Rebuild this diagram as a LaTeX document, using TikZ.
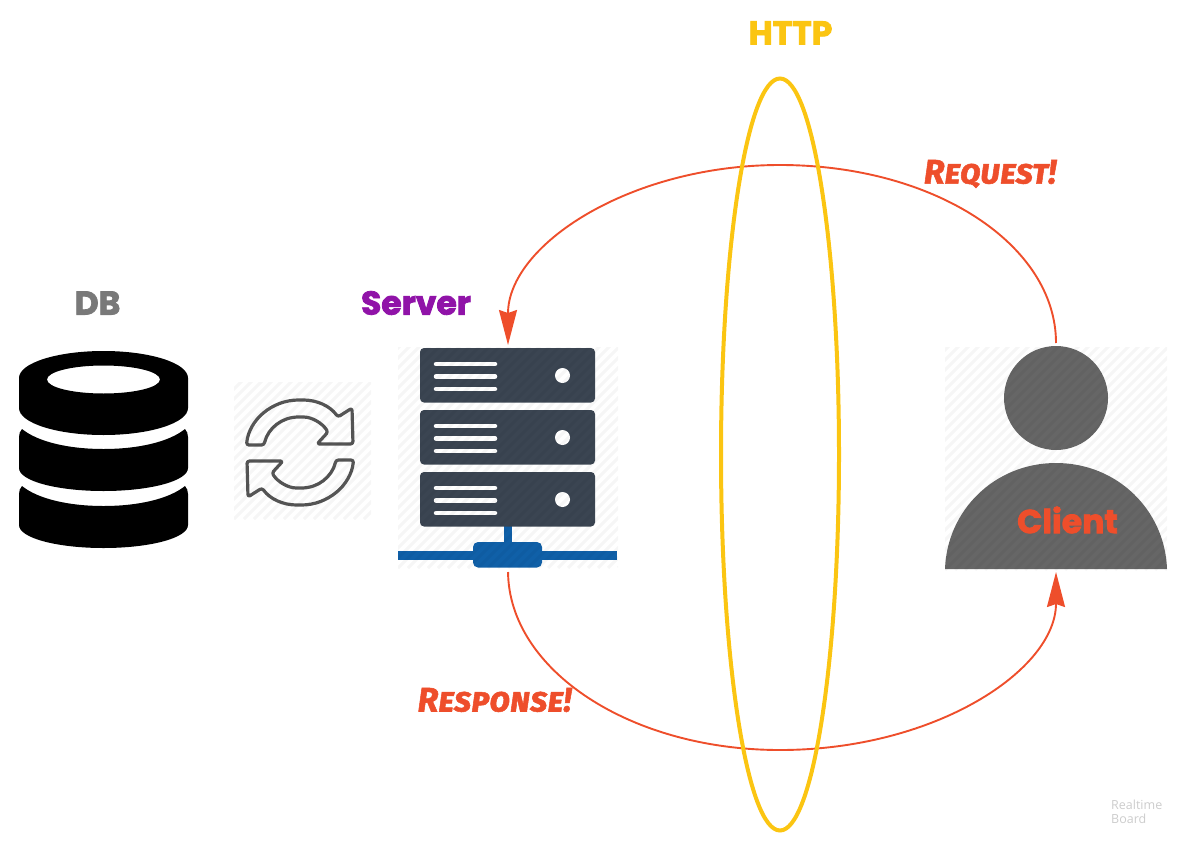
\documentclass[tikz,border=0pt]{standalone}
\usepackage{fontspec}
\usetikzlibrary{arrows.meta,shapes.geometric}
\setmainfont{Open Sans}
\newfontfamily\heavy[BoldFeatures={FakeBold=2.5}]{Poppins}
\newfontfamily\hand[Letters=SmallCaps,BoldItalicFeatures={Letters=SmallCaps,FakeBold=1.5}]{Fira Sans}
\definecolor{redline}{HTML}{EE4E2B}
\definecolor{yellowring}{HTML}{FBC512}
\definecolor{slate}{HTML}{3B4552}
\definecolor{netblue}{HTML}{1060A8}
\definecolor{persongray}{HTML}{666666}
\definecolor{synccol}{HTML}{555555}
\tikzset{
  iconbox/.style={inner sep=0pt,outer sep=0pt,rectangle},
  flow/.style={draw=redline,line width=1.9pt},
  flowend/.style={flow,-{Stealth[length=35pt,width=18pt,inset=3pt,fill=redline]},shorten >=2pt},
  rack/.style={fill=slate,rounded corners=4pt},
  rackline/.style={draw=white,line width=4.5pt,line cap=round},
  syncarrow/.style={draw=synccol,fill=white,line width=3.2pt,rounded corners=2.5pt,line join=round},
  hatchline/.style={draw=black,opacity=0.035,line width=3pt},
  boldlabel/.style={font=\heavy\bfseries\fontsize{33}{36}\selectfont,inner sep=0pt},
  handlabel/.style={text=redline,inner sep=0pt,font=\hand\bfseries\itshape\fontsize{34}{36}\selectfont},
}
\newcommand{\hatchbox}[4]{%
  \begin{scope}
    \clip (#1,#2) rectangle (#3,#4);
    \foreach \d in {-240,-230,...,230}{
      \draw[hatchline] ({#1+\d},#4) -- ++(240,-240);
    }
  \end{scope}}
\begin{document}
\begin{tikzpicture}[x=1pt,y=-1pt]
\useasboundingbox (0,0) rectangle (1185,843);
% anchors
\node[iconbox,minimum width=220pt,minimum height=221pt] (serverbox) at (508,457.5) {};
\node[iconbox,minimum width=222pt,minimum height=223pt] (clientbox) at (1056,458.5) {};
\node[iconbox,minimum width=137pt,minimum height=137pt] (syncbox) at (302.5,450.5) {};
% database
\fill[black,even odd rule] (19,378) .. controls (19,363) and (57,351) .. (103.5,351) .. controls (150,351) and (188,363) .. (188,378)
  -- (188,408) .. controls (188,423) and (150,435) .. (103.5,435) .. controls (57,435) and (19,423) .. (19,408) -- cycle
  (103.5,379.5) ellipse [x radius=56.5pt,y radius=14pt];
\foreach \o in {0,57}{
\fill[black,yshift=-\o pt] (19,437) .. controls (19,434) and (20,431) .. (22,429) .. controls (38,442) and (69,449) .. (103.5,449) .. controls (138,449) and (169,442) .. (185,429) .. controls (187,431) and (188,434) .. (188,437)
  -- (188,468) .. controls (188,481) and (150,491) .. (103.5,491) .. controls (57,491) and (19,481) .. (19,468) -- cycle;
}
% sync icon
\foreach \r in {0,180}{
\begin{scope}[rotate around={\r:(300,452.5)}]
\draw[syncarrow] (246.5,445) .. controls (249,420) and (272,400) .. (301,400) .. controls (317,400) and (330,406) .. (338,417) -- (352,408) -- (353,444) -- (317,444) -- (328,432) .. controls (322,423) and (312,417) .. (301,417) .. controls (282,417) and (268,428) .. (264,445) -- cycle;
\end{scope}
}
% server
\fill[netblue] (398,551) rectangle (617,559.5);
\fill[netblue] (503.5,525) rectangle (512,545);
\fill[netblue,rounded corners=5pt] (473,542) rectangle (542,567.5);
\foreach \y in {0,62,124}{
  \fill[rack] (420,348+\y) rectangle (595,402.5+\y);
  \draw[rackline] (436,364+\y) -- (495,364+\y);
  \draw[rackline] (436,376.5+\y) -- (495,376.5+\y);
  \draw[rackline] (436,389+\y) -- (495,389+\y);
  \fill[white] (562.5,375.5+\y) circle (7.5pt);
}
% client
\fill[persongray] (1056,398) circle (52pt);
\fill[persongray] (945,569) .. controls (947,510) and (995,463) .. (1056,463) .. controls (1117,463) and (1165,510) .. (1167,569) -- cycle;
% hatch
\hatchbox{234}{382}{371}{519}
\hatchbox{398}{347}{618}{568}
\hatchbox{945}{347}{1167}{570}
% connectors
\draw[flowend,shorten <=4pt] (clientbox.north) .. controls (1056,245) and (935,165) .. (780,165) .. controls (630,165) and (508,245) .. (serverbox.north);
\draw[flowend,shorten <=4pt] (serverbox.south) .. controls (509,670) and (630,750) .. (780,750) .. controls (935,750) and (1056,670) .. (clientbox.south);
% HTTP ring
\node[draw=yellowring,line width=4pt,ellipse,minimum width=118pt,minimum height=752pt,inner sep=0pt] (httpring) at (780,454.5) {};
% labels
\node[boldlabel,text=yellowring] (httplabel) at (790.5,33) {HTTP};
\node[boldlabel,text=gray!95!black] (dblabel) at (97.5,303) {DB};
\node[boldlabel,text={rgb,255:red,144;green,19;blue,168}] (serverlabel) at (416,303) {Server};
\node[boldlabel,text=redline] (clientlabel) at (1067.5,520) {Client};
\node[handlabel] (requestlabel) at (990,174) {Request!};
\node[handlabel] (responselabel) at (494.5,700) {Response!};
\node[text=gray!40,inner sep=0pt,align=left,anchor=north west,font=\fontsize{12.5}{14}\selectfont] (mark) at (1111,799.5) {Realtime\\Board};
\end{tikzpicture}
\end{document}
